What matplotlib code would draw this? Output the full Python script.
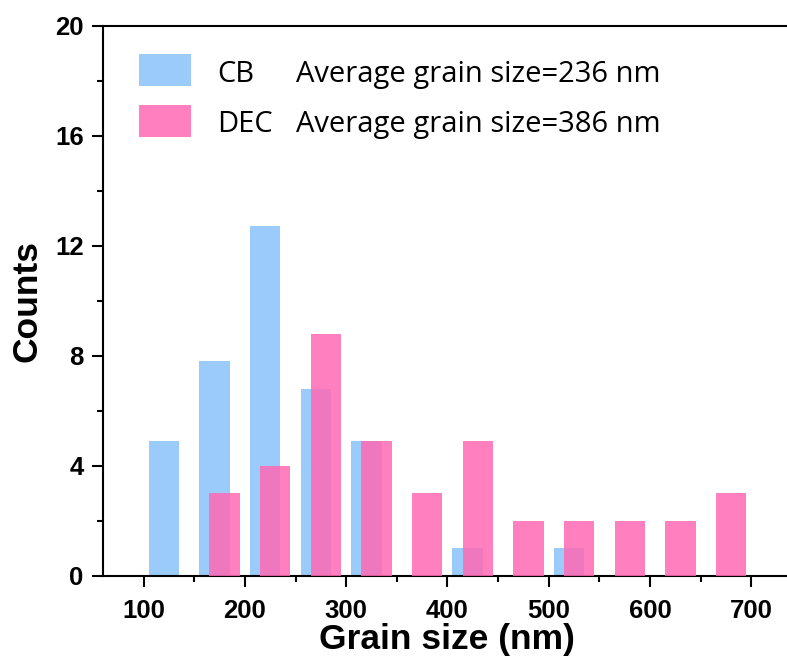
import matplotlib
matplotlib.use('Agg')
import matplotlib.pyplot as plt
from matplotlib.patches import Rectangle
from matplotlib.ticker import MultipleLocator

# bin centres (nm) and counts for the two samples
cb_size = [120, 170, 220, 270, 320, 420, 520]
cb_count = [4.9, 7.8, 12.7, 6.8, 4.9, 1.0, 1.0]
dec_size = [180, 230, 280, 330, 380, 430, 480, 530, 580, 630, 680]
dec_count = [3.0, 4.0, 8.8, 4.9, 3.0, 4.9, 2.0, 2.0, 2.0, 2.0, 3.0]
cb_avg, dec_avg = 236, 386

CB_COL = '#9ACBFA'
DEC_COL = '#FF69B4'

plt.rcParams['font.family'] = ['Liberation Sans', 'DejaVu Sans']

fig = plt.figure(figsize=(7.87, 6.63), dpi=100)
ax = fig.add_axes([0.131, 0.1317, 0.875, 0.8298])

ax.bar(cb_size, cb_count, width=30, color=CB_COL, zorder=2)
ax.bar(dec_size, dec_count, width=30, color=DEC_COL, alpha=0.85, zorder=3)

ax.set_xlim(60, 740)
ax.set_ylim(0, 20)
ax.xaxis.set_major_locator(MultipleLocator(100))
ax.xaxis.set_minor_locator(MultipleLocator(50))
ax.yaxis.set_major_locator(MultipleLocator(4))
ax.yaxis.set_minor_locator(MultipleLocator(2))
ax.tick_params(which='major', direction='out', length=8, width=1.5, labelsize=18.5)
ax.tick_params(axis='x', which='major', pad=9)
ax.tick_params(axis='y', which='major', pad=6)
ax.tick_params(which='minor', direction='out', length=4, width=1.5)
for lab in ax.get_xticklabels() + ax.get_yticklabels():
    lab.set_fontweight('bold')
for s in ax.spines.values():
    s.set_linewidth(1.5)

ax.set_xlabel('Grain size (nm)', fontsize=25.5, fontweight='bold', labelpad=0)
ax.set_ylabel('Counts', fontsize=25.5, fontweight='bold', labelpad=8)

# legend: colour swatches + sample name + average size, laid out in axes coords
lfont = {'family': 'Open Sans', 'size': 21}
rows = [(CB_COL, 1.0, 'CB', cb_avg, 0.890, 0.898),
        (DEC_COL, 0.85, 'DEC', dec_avg, 0.797, 0.807)]
for col, a, name, avg, y0, yb in rows:
    ax.add_patch(Rectangle((0.0523, y0), 0.075, 0.058, transform=ax.transAxes,
                           color=col, alpha=a, lw=0, zorder=4))
    ax.text(0.1655, yb, name, transform=ax.transAxes, va='baseline', **lfont)
    ax.text(0.280, yb, f'Average grain size={avg} nm', transform=ax.transAxes,
            va='baseline', **lfont)

fig.savefig('out.png', dpi=100)
